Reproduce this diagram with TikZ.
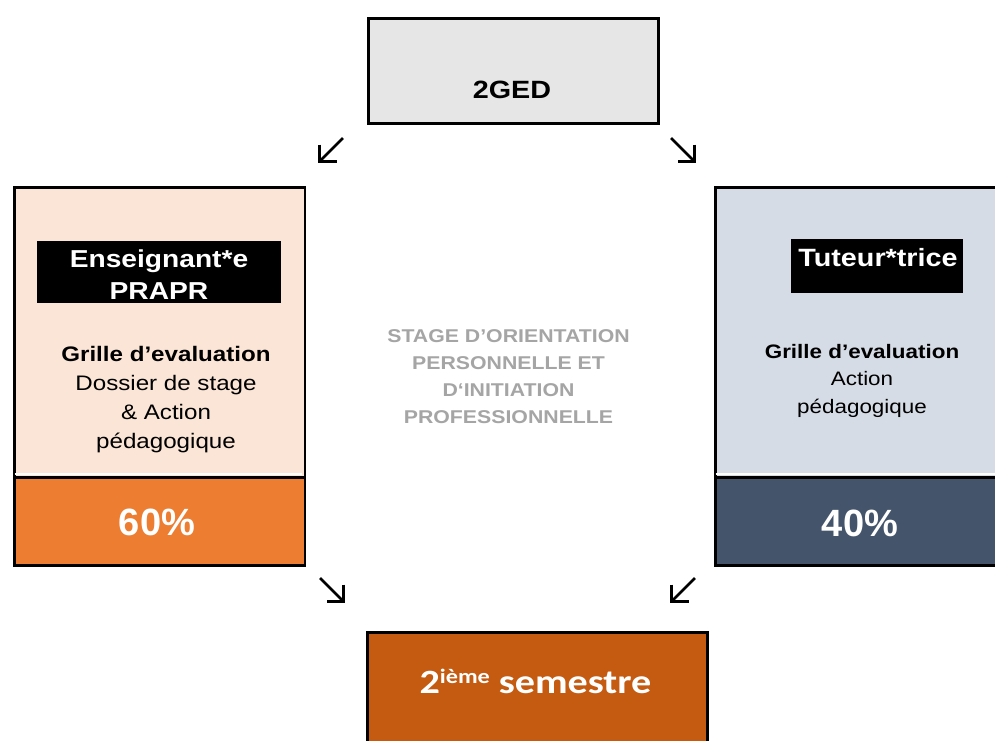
\documentclass[tikz,border=0pt]{standalone}
\usepackage{fontspec}
\usetikzlibrary{calc}
\setmainfont{Liberation Sans}
\newfontfamily\arx[FakeStretch=1.15]{Liberation Sans}
\newfontfamily\arn{Liberation Sans}
\newfontfamily\calx[FakeStretch=1.18]{Carlito}
\definecolor{gedgray}{HTML}{E6E6E6}
\definecolor{peach}{HTML}{FBE5D6}
\definecolor{orng}{HTML}{ED7D31}
\definecolor{bluelt}{HTML}{D6DCE5}
\definecolor{bluedk}{HTML}{44546A}
\definecolor{rust}{HTML}{C55A11}
\definecolor{txtgray}{HTML}{A5A5A5}
\tikzset{
  panel/.style={draw=black, line width=2.5pt, rectangle, inner sep=0pt, anchor=north west},
  tag/.style={fill=black, rectangle, inner sep=0pt, anchor=north west},
  txt/.style={inner sep=0pt, anchor=base, align=center},
  glyph/.style={line width=2.6pt, line join=miter, line cap=butt}
}
\begin{document}
\begin{tikzpicture}[x=1pt,y=-1pt]
\useasboundingbox (0,0) rectangle (995,740);
\fill[white] (0,0) rectangle (995,740);

% top box
\node[panel, line width=3pt, fill=gedgray, minimum width=290pt, minimum height=105pt] (ged) at (366.5,16.5) {};
\node[txt, font={\arx\bfseries\fontsize{25}{30}\selectfont}] (gedt) at (512,98) {2GED};

% left panel
\node[panel, fill=peach, minimum width=290.5pt, minimum height=290pt] (lup) at (13.25,186.25) {};
\node[panel, fill=orng, minimum width=290.5pt, minimum height=88pt] (llo) at (13.25,476.25) {};
\draw[white, line width=2pt] (14.6,473.5) -- (301.9,473.5);
\node[tag, minimum width=244pt, minimum height=62pt] (ltag) at (37,241) {};
\node[txt, text=white, font={\arx\bfseries\fontsize{24.5}{32}\selectfont}] (ltagt) at (159,299) {Enseignant*e\\PRAPR};
\node[txt, font={\arx\fontsize{21}{29}\selectfont}] (lbody) at (166,448) {{\bfseries Grille d’evaluation}\\Dossier de stage\\\& Action\\pédagogique};
\node[txt, text=white, font={\arn\bfseries\fontsize{38}{40}\selectfont}] (lpct) at (157,535) {60\%};

% right panel
\node[panel, fill=bluelt, minimum width=290pt, minimum height=290pt] (rup) at (714.25,186.25) {};
\node[panel, fill=bluedk, minimum width=290pt, minimum height=88pt] (rlo) at (714.25,476.25) {};
\draw[white, line width=2pt] (715.6,473.5) -- (1000,473.5);
\node[tag, minimum width=172pt, minimum height=54pt] (rtag) at (791,239) {};
\node[txt, text=white, font={\arx\bfseries\fontsize{25}{30}\selectfont}] (rtagt) at (878,266) {Tuteur*trice};
\node[txt, font={\arx\fontsize{19.5}{27.5}\selectfont}] (rbody) at (862,413) {{\bfseries Grille d’evaluation}\\Action\\pédagogique};
\node[txt, text=white, font={\arn\bfseries\fontsize{38}{40}\selectfont}] (rpct) at (860,536) {40\%};

% centre text
\node[txt, text=txtgray, font={\arx\bfseries\fontsize{18.5}{26.7}\selectfont}] (mid) at (508.5,423) {STAGE D’ORIENTATION\\PERSONNELLE ET\\D‘INITIATION\\PROFESSIONNELLE};

% bottom box
\node[panel, fill=rust, minimum width=340pt, minimum height=120pt] (sem) at (366.25,631.25) {};
\node[txt, text=white, font={\calx\bfseries\fontsize{34}{36}\selectfont}] (semt) at (535.5,693) {2\raisebox{10pt}{\fontsize{20.5}{20}\selectfont ième} semestre};

% arrow glyphs
\coordinate (a1s) at (343,138); \coordinate (a1t) at (319.5,161.5);
\draw[glyph] (a1s) -- (a1t);
\draw[glyph] ($(a1t)+(0,-17)$) -- (a1t) -- ($(a1t)+(17,0)$);
\coordinate (a2s) at (671,138); \coordinate (a2t) at (694.5,161.5);
\draw[glyph] (a2s) -- (a2t);
\draw[glyph] ($(a2t)+(0,-17)$) -- (a2t) -- ($(a2t)+(-17,0)$);
\coordinate (a3s) at (320,578); \coordinate (a3t) at (343.5,601.5);
\draw[glyph] (a3s) -- (a3t);
\draw[glyph] ($(a3t)+(0,-17)$) -- (a3t) -- ($(a3t)+(-17,0)$);
\coordinate (a4s) at (695,578); \coordinate (a4t) at (671.5,601.5);
\draw[glyph] (a4s) -- (a4t);
\draw[glyph] ($(a4t)+(0,-17)$) -- (a4t) -- ($(a4t)+(17,0)$);
\end{tikzpicture}
\end{document}
